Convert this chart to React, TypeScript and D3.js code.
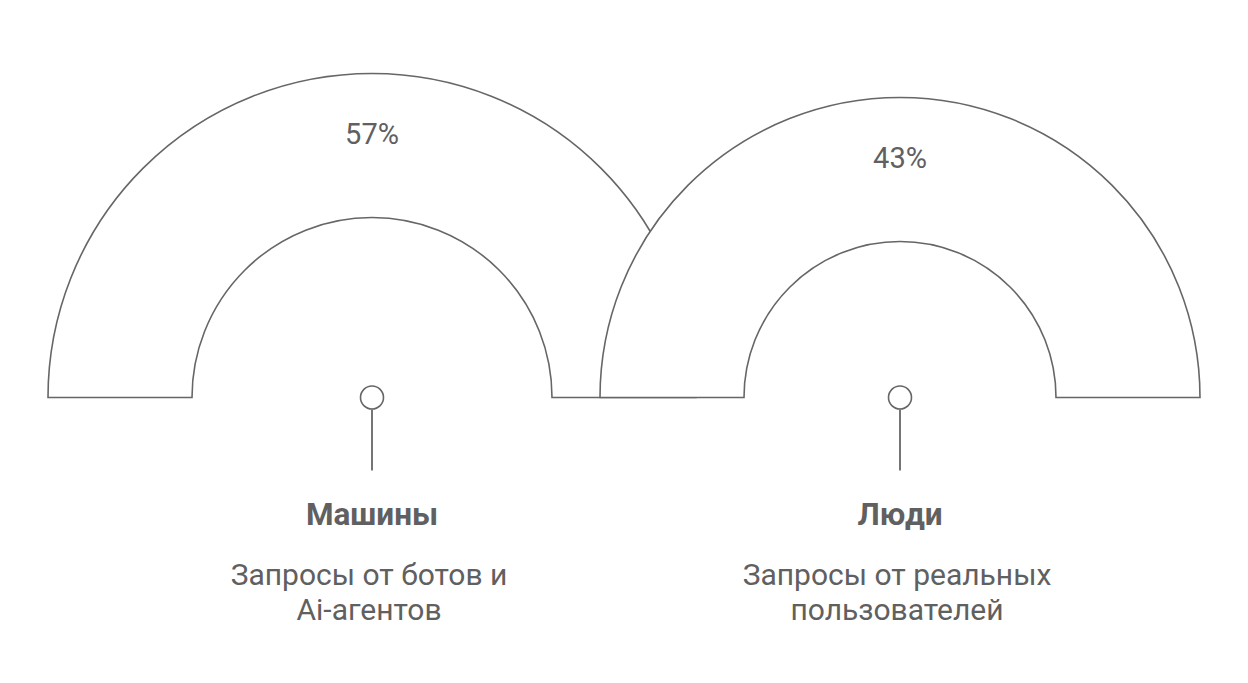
import React from "react";
import * as d3 from "d3";

const categories = ["Машины", "Люди"];
const values = [57, 43];
const descriptions = [
  ["Запросы от ботов и", "Ai-агентов"],
  ["Запросы от реальных", "пользователей"],
];

const W = 1248;
const H = 683;
const STROKE = "#666666";
const TEXT = "#606060";
const FONT = "Roboto, 'Noto Sans', sans-serif";

export default function App() {
  const baseY = 397.5;
  const centersX = [372, 900];
  const outerR = [324, 300];
  const innerR = [180, 156];

  const arcs = values.map((v, i) =>
    d3
      .arc<any>()
      .innerRadius(innerR[i])
      .outerRadius(outerR[i])
      .startAngle(-Math.PI / 2)
      .endAngle(Math.PI / 2)({} as any) as string
  );

  return (
    <svg width={W} height={H} style={{ position: "absolute", left: 0, top: 0, background: "#fff" }}>
      {values.map((v, i) => (
        <g key={"arc" + i} transform={`translate(${centersX[i]},${baseY})`}>
          <path d={arcs[i]} fill="#ffffff" stroke={STROKE} strokeWidth={1.6} strokeLinejoin="miter" />
          <text
            x={0}
            y={-(outerR[i] + innerR[i]) / 2 - 1.5}
            textAnchor="middle"
            fontFamily={FONT}
            fontSize={29}
            fill={TEXT}
          >
            {d3.format("d")(v)}%
          </text>
        </g>
      ))}
      {values.map((v, i) => (
        <g key={"lbl" + i} transform={`translate(${centersX[i]},${baseY})`}>
          <line x1={0} x2={0} y1={12} y2={73} stroke={STROKE} strokeWidth={1.8} />
          <circle cx={0} cy={0} r={11.5} fill="#fff" stroke={STROKE} strokeWidth={1.6} />
          <text x={0} y={127.5} textAnchor="middle" fontFamily={FONT} fontSize={31.5} fontWeight={700} fill={TEXT}>
            {categories[i]}
          </text>
          {descriptions[i].map((line, j) => (
            <text
              key={j}
              x={-3}
              y={187 + j * 35}
              textAnchor="middle"
              fontFamily={FONT}
              fontSize={30}
              fill={TEXT}
            >
              {line}
            </text>
          ))}
        </g>
      ))}
    </svg>
  );
}
